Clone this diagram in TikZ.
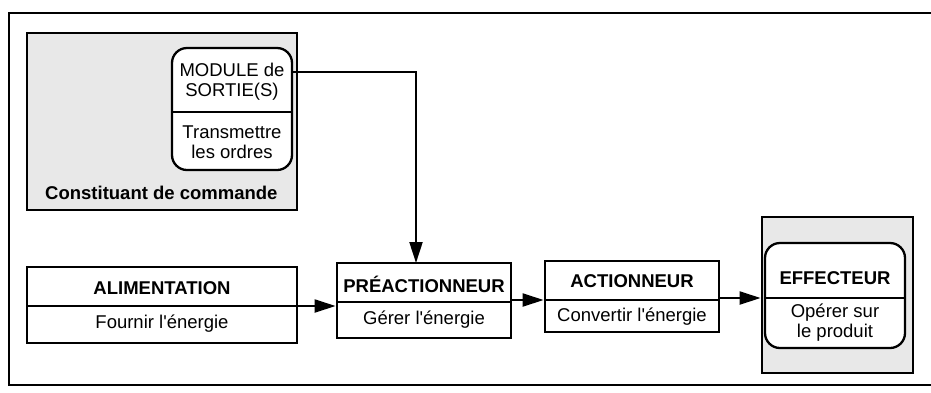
\documentclass[tikz,border=0pt]{standalone}
\usepackage{fontspec}
\setmainfont{Liberation Sans}
\usetikzlibrary{arrows.meta}
\begin{document}
\begin{tikzpicture}[x=1pt,y=-1pt,
  frame/.style={line width=1.6pt},
  box/.style={draw,line width=2.8pt,inner sep=0pt,fill=white},
  zone/.style={draw,line width=2.8pt,inner sep=0pt,fill=black!9},
  rbox/.style={draw,line width=2.3pt,rounded corners=15pt,inner sep=0pt,fill=white},
  divline/.style={line width=1.5pt},
  conn/.style={line width=2.1pt,-{Triangle[length=21pt,width=13pt]}},
  ttl/.style={font=\fontsize{18.5}{20}\selectfont\bfseries,inner sep=0pt},
  txt/.style={font=\fontsize{18.5}{20}\selectfont,align=center,inner sep=0pt},
]
\useasboundingbox (0,0) rectangle (931,392);
% outer frame
\draw[frame] (945,13) -- (9,13) -- (9,385) -- (945,385);

% command constituent
\node[zone,minimum width=270,minimum height=177] (cmd) at (162,121.5) {};
\node[rbox,minimum width=120,minimum height=122] (module) at (232,109) {};
\coordinate (modd) at (172,112);
\draw[divline] (modd) -- (module.east |- modd);
\node[txt] (modt) at (232,82) {MODULE de\\SORTIE(S)};
\node[txt] (modb) at (232,142) {Transmettre\\les ordres};
\node[ttl,anchor=west] (cmdt) at (45,193) {Constituant de commande};

% alimentation
\node[box,minimum width=270,minimum height=76] (ali) at (162,305) {};
\coordinate (alid) at (27,306);
\draw[divline] (alid) -- (ali.east |- alid);
\node[ttl] (alit) at (162,288) {ALIMENTATION};
\node[txt] (alib) at (162,324) {Fournir l\textquotesingle énergie};

% preactionneur
\node[box,minimum width=174,minimum height=75] (pre) at (424,300.5) {};
\coordinate (pred) at (337,302);
\draw[divline] (pred) -- (pre.east |- pred);
\node[ttl] (pret) at (424,284) {PRÉACTIONNEUR};
\node[txt] (preb) at (424,320) {Gérer l\textquotesingle énergie};

% actionneur
\node[box,minimum width=174,minimum height=71] (act) at (632,296.5) {};
\coordinate (actd) at (545,300);
\draw[divline] (actd) -- (act.east |- actd);
\node[ttl] (actt) at (632,281) {ACTIONNEUR};
\node[txt] (actb) at (632,317) {Convertir l\textquotesingle énergie};

% effecteur
\node[zone,minimum width=151,minimum height=156] (effz) at (837.5,295) {};
\node[rbox,minimum width=140,minimum height=105] (eff) at (835,295.5) {};
\coordinate (effd) at (765,298);
\draw[divline] (effd) -- (eff.east |- effd);
\node[ttl] (efft) at (835,278) {EFFECTEUR};
\node[txt] (effb) at (835,323) {Opérer sur\\le produit};

% connectors
\coordinate (mout) at (292,72);
\coordinate (pin) at (416,263);
\draw[conn] (mout) -| (pin);
\draw[conn] (ali.east |- alid) -- (pre.west |- alid);
\draw[conn] (pre.east |- actd) -- (act.west |- actd);
\draw[conn] (act.east |- effd) -- (effz.west |- effd);
\end{tikzpicture}
\end{document}
